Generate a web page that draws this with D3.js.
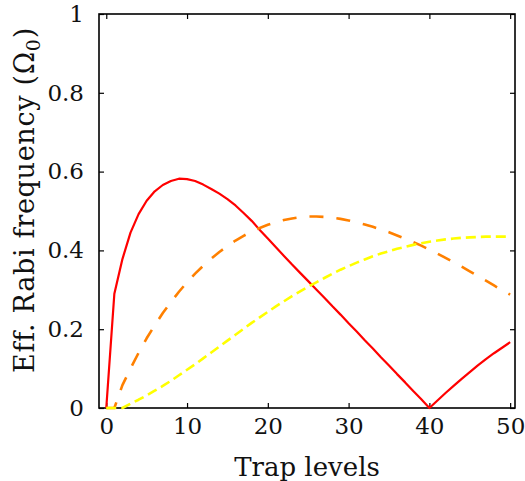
<!DOCTYPE html>
<html>
<head>
<meta charset="utf-8">
<script src="https://cdn.jsdelivr.net/npm/d3@7"></script>
<style>
  html, body { margin: 0; padding: 0; background: #fff; }
  svg { display: block; }
</style>
</head>
<body>
<svg id="chart" width="525" height="481"></svg>
<script>
// Trap level index n
const levels = d3.range(0, 51);

// Effective Rabi frequency (units of Ω0) for the first, second and third sideband
const firstSideband = [
  0, 0.290, 0.378, 0.445, 0.492, 0.526, 0.550, 0.566, 0.576, 0.582,
  0.581, 0.576, 0.567, 0.556, 0.544, 0.530, 0.514, 0.495, 0.475, 0.452,
  0.430, 0.408, 0.386, 0.364, 0.343, 0.322, 0.301, 0.280, 0.258, 0.237,
  0.215, 0.194, 0.172, 0.151, 0.129, 0.108, 0.086, 0.065, 0.043, 0.022,
  0, 0.019, 0.038, 0.056, 0.074, 0.091, 0.108, 0.124, 0.139, 0.153, 0.167
];
const secondSideband = [
  0, 0, 0.058, 0.100, 0.140, 0.177, 0.210, 0.241, 0.269, 0.295,
  0.319, 0.341, 0.361, 0.379, 0.396, 0.411, 0.425, 0.437, 0.448, 0.457,
  0.465, 0.472, 0.477, 0.481, 0.484, 0.486, 0.486, 0.485, 0.483, 0.480,
  0.476, 0.471, 0.466, 0.460, 0.453, 0.446, 0.438, 0.430, 0.421, 0.412,
  0.402, 0.392, 0.381, 0.370, 0.359, 0.347, 0.335, 0.323, 0.311, 0.299, 0.288
];
const thirdSideband = [
  0, 0, 0, 0.011, 0.021, 0.032, 0.044, 0.056, 0.069, 0.083,
  0.097, 0.111, 0.126, 0.141, 0.156, 0.171, 0.186, 0.201, 0.216, 0.230,
  0.244, 0.258, 0.271, 0.284, 0.296, 0.308, 0.319, 0.330, 0.341, 0.351,
  0.360, 0.369, 0.377, 0.385, 0.392, 0.398, 0.404, 0.409, 0.414, 0.418,
  0.422, 0.425, 0.428, 0.430, 0.432, 0.433, 0.434, 0.435, 0.435, 0.435, 0.435
];

const xTicks = [0, 10, 20, 30, 40, 50];
const yTicks = [0, 0.2, 0.4, 0.6, 0.8, 1];
const yTickLabels = ["0", "0.2", "0.4", "0.6", "0.8", "1"];

const serif = "'DejaVu Serif', 'Noto Serif', serif";

const svg = d3.select("#chart");
const frameLeft = 99, frameRight = 515, frameTop = 14, frameBottom = 408;

const x = d3.scaleLinear().domain([-0.9, 50.6]).range([frameLeft, frameRight]);
const y = d3.scaleLinear().domain([0, 1]).range([frameBottom, frameTop]);

// Frame
svg.append("rect")
  .attr("x", frameLeft).attr("y", frameTop)
  .attr("width", frameRight - frameLeft).attr("height", frameBottom - frameTop)
  .attr("fill", "none").attr("stroke", "#000").attr("stroke-width", 1.6);

function styleAxis(g, showLabels) {
  g.attr("font-family", null).attr("font-size", null);
  g.select(".domain").remove();
  g.selectAll(".tick line").attr("stroke", "#000").attr("stroke-width", 1.2);
  if (!showLabels) g.selectAll(".tick text").remove();
  else g.selectAll(".tick text").attr("fill", "#111")
    .style("font-family", serif).style("font-size", "23px");
}

svg.append("g").attr("transform", `translate(0,${frameBottom})`)
  .call(d3.axisBottom(x).tickValues(xTicks).tickSizeInner(-5).tickSizeOuter(0).tickPadding(10).tickFormat(d3.format("d")))
  .call(g => styleAxis(g, true));
svg.append("g").attr("transform", `translate(0,${frameTop})`)
  .call(d3.axisTop(x).tickValues(xTicks).tickSizeInner(-5).tickSizeOuter(0))
  .call(g => styleAxis(g, false));
svg.append("g").attr("transform", `translate(${frameLeft},0)`)
  .call(d3.axisLeft(y).tickValues(yTicks).tickSizeInner(-5).tickSizeOuter(0).tickPadding(15)
    .tickFormat((d, i) => yTickLabels[i]))
  .call(g => styleAxis(g, true));
svg.append("g").attr("transform", `translate(${frameRight},0)`)
  .call(d3.axisRight(y).tickValues(yTicks).tickSizeInner(-5).tickSizeOuter(0))
  .call(g => styleAxis(g, false));

// Curves
const line = d3.line().x((d, i) => x(levels[i])).y(d => y(d));
const series = [
  { values: firstSideband,  color: "#ff0000", width: 2.2, dash: null },
  { values: secondSideband, color: "#ff8000", width: 2.6, dash: "14,13" },
  { values: thirdSideband,  color: "#ffff00", width: 2.6, dash: "10,5" }
];
series.forEach(s => {
  svg.append("path")
    .datum(s.values)
    .attr("d", line)
    .attr("fill", "none")
    .attr("stroke", s.color)
    .attr("stroke-width", s.width)
    .attr("stroke-dasharray", s.dash)
    .attr("stroke-linejoin", "round");
});

// Axis titles
svg.append("text")
  .attr("x", (frameLeft + frameRight) / 2).attr("y", 476)
  .attr("text-anchor", "middle")
  .style("font-family", serif).style("font-size", "26px").attr("fill", "#111")
  .text("Trap levels");

const yTitle = svg.append("text")
  .attr("transform", `translate(34,200) rotate(-90)`)
  .attr("text-anchor", "middle")
  .style("font-family", serif).style("font-size", "27px").attr("fill", "#111");
yTitle.append("tspan").text("Eff. Rabi frequency (Ω");
yTitle.append("tspan").attr("dy", 6).style("font-size", "19px").text("0");
yTitle.append("tspan").attr("dy", -6).text(")");

// Spread the vertical title to span the frame height
const titleLen = yTitle.node().getComputedTextLength();
const nChars = yTitle.text().length;
const spacing = Math.max(0, (345 - titleLen) / nChars);
yTitle.style("letter-spacing", spacing + "px");
</script>
</body>
</html>
